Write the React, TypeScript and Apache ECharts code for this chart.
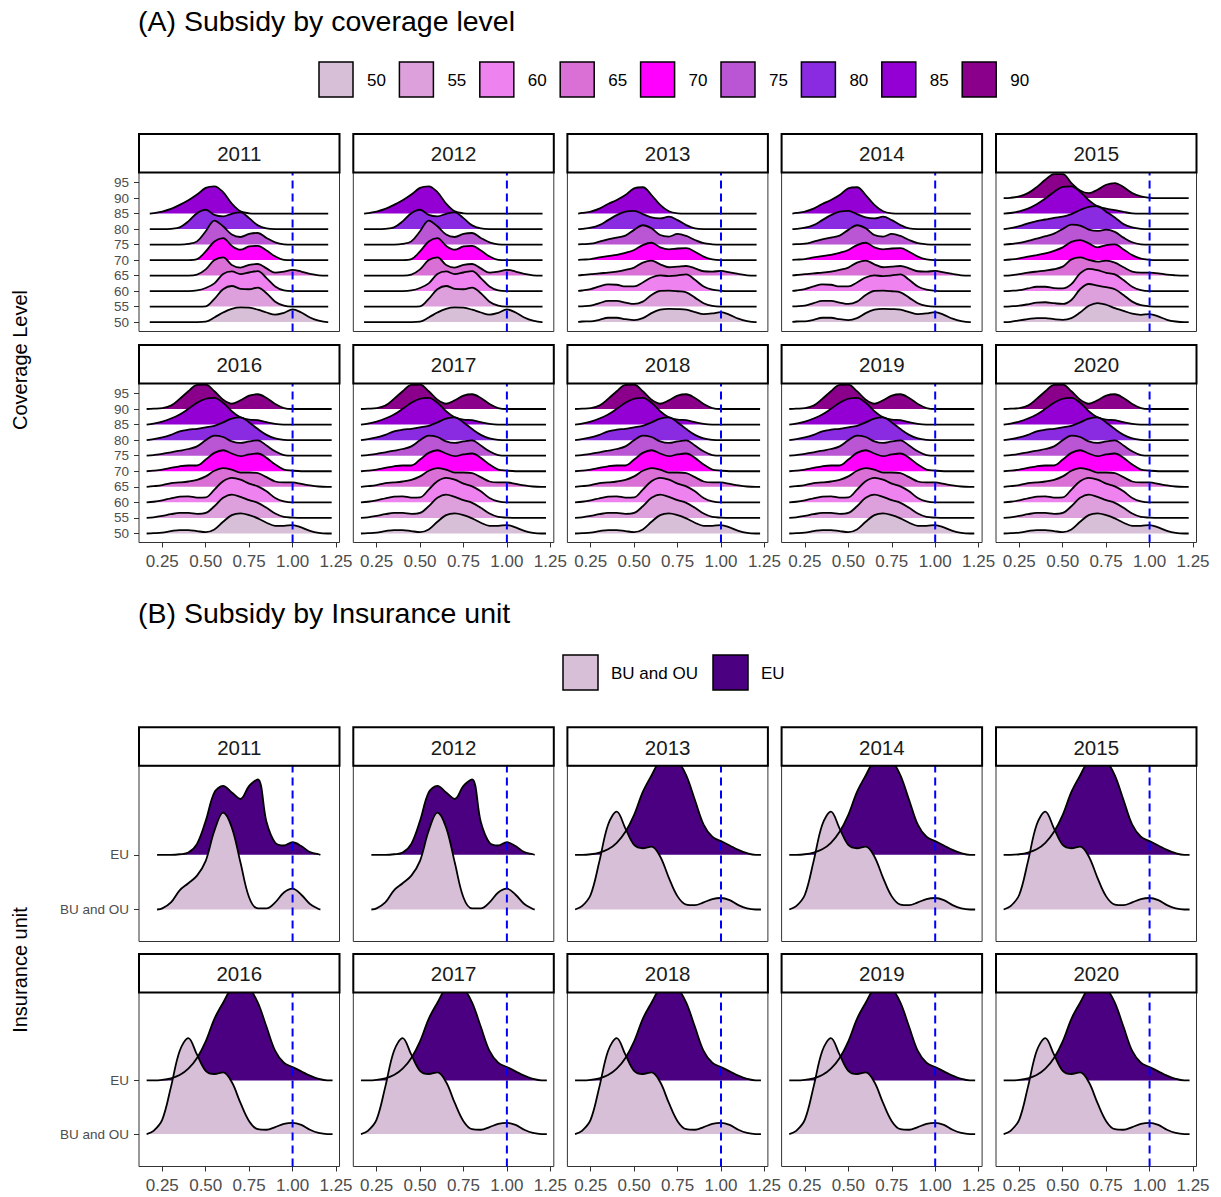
import React, { useEffect, useRef } from 'react';
import * as echarts from 'echarts';

// ---------- data ----------
const YEARS = [2011, 2012, 2013, 2014, 2015, 2016, 2017, 2018, 2019, 2020];
const LEVELS = [50, 55, 60, 65, 70, 75, 80, 85, 90];
const LEVEL_COLORS = ['#D8BFD8', '#DDA0DD', '#EE82EE', '#DA70D6', '#FF00FF', '#BA55D3', '#8A2BE2', '#9400D3', '#8B008B'];
const Y_TICKS_A = [50, 55, 60, 65, 70, 75, 80, 85, 90, 95];
const X_TICKS = [0.25, 0.5, 0.75, 1, 1.25];
const UNITS = ['BU and OU', 'EU'];
const UNIT_COLORS = ['#D8BFD8', '#4B0082'];

// x grids of the density curves
const XA1 = [0.178, 0.2, 0.25, 0.3, 0.35, 0.4, 0.45, 0.5, 0.55, 0.6, 0.65, 0.7, 0.75, 0.8, 0.85, 0.9, 0.95, 1.0, 1.05, 1.1, 1.15, 1.2, 1.205];
const XA2 = [0.16, 0.2, 0.25, 0.3, 0.35, 0.4, 0.45, 0.5, 0.55, 0.6, 0.65, 0.7, 0.75, 0.8, 0.85, 0.9, 0.95, 1.0, 1.05, 1.1, 1.15, 1.2, 1.225];
const XB1 = [0.22, 0.25, 0.3, 0.35, 0.4, 0.45, 0.5, 0.55, 0.6, 0.65, 0.7, 0.75, 0.8, 0.85, 0.9, 0.95, 1.0, 1.05, 1.1, 1.15, 1.16];
const XB2 = [0.16, 0.2, 0.25, 0.3, 0.35, 0.4, 0.45, 0.5, 0.55, 0.6, 0.65, 0.7, 0.75, 0.8, 0.85, 0.9, 0.95, 1.0, 1.05, 1.1, 1.15, 1.2, 1.23];

// (A) ridge heights (in level steps), rows = coverage 50, 55, ...
const A_2011 = [
  [0, 0, 0, 0, 0, 0, 0, 0.03, 0.3, 0.62, 0.86, 0.95, 0.93, 0.8, 0.62, 0.48, 0.6, 0.82, 0.62, 0.3, 0.09, 0, 0],
  [0, 0, 0, 0, 0, 0, 0, 0.02, 0.5, 1.12, 1.33, 1.15, 1.12, 1.23, 0.86, 0.32, 0.06, 0, 0, 0, 0, 0, 0],
  [0, 0, 0, 0, 0, 0, 0.04, 0.2, 0.5, 1.1, 1.27, 1.1, 1.2, 1.29, 0.84, 0.3, 0.04, 0, 0, 0, 0, 0, 0],
  [0, 0, 0, 0, 0, 0, 0.06, 0.4, 1.0, 1.18, 0.69, 0.52, 0.69, 0.75, 0.47, 0.19, 0.26, 0.37, 0.26, 0.11, 0.02, 0, 0],
  [0, 0, 0, 0, 0, 0, 0.06, 0.56, 1.2, 1.42, 0.92, 0.67, 0.88, 0.92, 0.62, 0.24, 0.02, 0, 0, 0, 0, 0, 0],
  [0, 0, 0, 0, 0, 0.04, 0.21, 0.86, 1.55, 1.18, 0.65, 0.49, 0.69, 0.75, 0.43, 0.15, 0.02, 0, 0, 0, 0, 0, 0],
  [0, 0, 0, 0.02, 0.11, 0.5, 1.03, 1.25, 0.92, 0.82, 0.99, 1.08, 0.71, 0.24, 0.04, 0, 0, 0, 0, 0, 0, 0, 0],
  [0, 0.03, 0.13, 0.3, 0.56, 0.86, 1.23, 1.66, 1.76, 1.38, 0.65, 0.15, 0.02, 0, 0, 0, 0, 0, 0, 0, 0, 0, 0],
];
const A_2013 = [
  [0.01, 0.04, 0.05, 0.15, 0.28, 0.28, 0.19, 0.13, 0.26, 0.58, 0.8, 0.86, 0.84, 0.8, 0.65, 0.52, 0.56, 0.65, 0.47, 0.22, 0.06, 0, 0],
  [0.01, 0.02, 0.06, 0.22, 0.37, 0.37, 0.26, 0.17, 0.32, 0.75, 1.01, 1.03, 0.99, 0.92, 0.58, 0.22, 0.04, 0, 0, 0, 0, 0, 0],
  [0.01, 0.04, 0.13, 0.3, 0.43, 0.41, 0.3, 0.3, 0.56, 0.88, 1.01, 0.97, 1.01, 1.08, 0.73, 0.3, 0.09, 0.02, 0, 0, 0, 0, 0],
  [0.01, 0.04, 0.09, 0.15, 0.19, 0.26, 0.37, 0.52, 0.84, 0.97, 0.73, 0.54, 0.58, 0.62, 0.47, 0.28, 0.26, 0.3, 0.21, 0.11, 0.02, 0, 0],
  [0.01, 0.03, 0.06, 0.17, 0.26, 0.34, 0.47, 0.65, 0.97, 1.12, 0.82, 0.69, 0.75, 0.77, 0.54, 0.22, 0.04, 0, 0, 0, 0, 0, 0],
  [0.01, 0.03, 0.06, 0.19, 0.34, 0.45, 0.58, 0.95, 1.25, 1.05, 0.62, 0.52, 0.69, 0.56, 0.3, 0.09, 0.02, 0, 0, 0, 0, 0, 0],
  [0, 0.02, 0.09, 0.26, 0.58, 0.9, 1.12, 1.18, 0.97, 0.75, 0.69, 0.8, 0.58, 0.26, 0.04, 0, 0, 0, 0, 0, 0, 0, 0],
  [0, 0.04, 0.13, 0.32, 0.62, 0.88, 1.2, 1.63, 1.7, 1.2, 0.56, 0.15, 0.02, 0, 0, 0, 0, 0, 0, 0, 0, 0, 0],
];
const A_2015 = [
  [0, 0.02, 0.11, 0.19, 0.26, 0.26, 0.19, 0.15, 0.26, 0.62, 1.05, 1.23, 1.12, 0.9, 0.73, 0.54, 0.47, 0.52, 0.37, 0.15, 0.04, 0, 0],
  [0, 0.02, 0.06, 0.15, 0.26, 0.28, 0.22, 0.17, 0.43, 1.12, 1.46, 1.35, 1.25, 1.12, 0.75, 0.32, 0.09, 0.02, 0, 0, 0, 0, 0],
  [0, 0.02, 0.06, 0.17, 0.28, 0.28, 0.19, 0.17, 0.45, 1.14, 1.44, 1.35, 1.18, 1.08, 0.71, 0.28, 0.06, 0, 0, 0, 0, 0, 0],
  [0, 0.02, 0.09, 0.19, 0.26, 0.32, 0.41, 0.58, 1.05, 1.18, 1.01, 0.9, 0.97, 0.84, 0.54, 0.26, 0.19, 0.19, 0.15, 0.06, 0.02, 0, 0],
  [0, 0.04, 0.11, 0.22, 0.32, 0.43, 0.6, 0.82, 1.18, 1.29, 1.08, 0.82, 0.97, 1.01, 0.69, 0.32, 0.09, 0.02, 0, 0, 0, 0, 0],
  [0, 0.04, 0.11, 0.24, 0.39, 0.54, 0.71, 1.01, 1.29, 1.23, 0.97, 0.88, 0.97, 0.82, 0.45, 0.15, 0.02, 0, 0, 0, 0, 0, 0],
  [0, 0.06, 0.19, 0.37, 0.52, 0.62, 0.73, 0.8, 0.97, 1.23, 1.44, 1.48, 1.12, 0.75, 0.32, 0.11, 0.02, 0, 0, 0, 0, 0, 0],
  [0, 0.04, 0.15, 0.32, 0.6, 0.97, 1.4, 1.72, 1.76, 1.4, 0.86, 0.47, 0.32, 0.22, 0.11, 0.02, 0, 0, 0, 0, 0, 0, 0],
  [0, 0.02, 0.11, 0.32, 0.71, 1.18, 1.55, 1.55, 0.97, 0.49, 0.32, 0.54, 0.86, 0.97, 0.71, 0.32, 0.11, 0.02, 0, 0, 0, 0, 0],
];
const A_2016 = [
  [0, 0.02, 0.06, 0.15, 0.22, 0.22, 0.15, 0.09, 0.26, 0.75, 1.18, 1.29, 1.18, 0.97, 0.69, 0.49, 0.49, 0.54, 0.39, 0.17, 0.04, 0, 0],
  [0, 0.04, 0.13, 0.24, 0.32, 0.32, 0.26, 0.32, 0.75, 1.29, 1.5, 1.35, 1.14, 0.97, 0.65, 0.28, 0.06, 0.02, 0, 0, 0, 0, 0],
  [0, 0.04, 0.13, 0.26, 0.37, 0.39, 0.3, 0.32, 0.82, 1.35, 1.57, 1.46, 1.2, 1.03, 0.71, 0.28, 0.06, 0, 0, 0, 0, 0, 0],
  [0, 0.04, 0.11, 0.24, 0.28, 0.34, 0.45, 0.67, 1.03, 1.2, 1.1, 0.92, 0.92, 0.88, 0.62, 0.34, 0.28, 0.28, 0.19, 0.09, 0.02, 0, 0],
  [0, 0.04, 0.11, 0.22, 0.32, 0.37, 0.37, 0.75, 1.18, 1.35, 1.14, 0.97, 1.08, 1.14, 0.86, 0.43, 0.11, 0.04, 0, 0, 0, 0, 0],
  [0, 0.04, 0.11, 0.22, 0.32, 0.43, 0.6, 0.99, 1.29, 1.2, 0.92, 0.82, 0.92, 0.99, 0.65, 0.28, 0.04, 0, 0, 0, 0, 0, 0],
  [0, 0.06, 0.17, 0.34, 0.56, 0.67, 0.73, 0.82, 0.92, 1.14, 1.38, 1.46, 1.14, 0.71, 0.34, 0.11, 0.02, 0, 0, 0, 0, 0, 0],
  [0, 0.06, 0.19, 0.39, 0.65, 1.01, 1.4, 1.66, 1.72, 1.4, 0.86, 0.47, 0.32, 0.28, 0.15, 0.04, 0, 0, 0, 0, 0, 0, 0],
  [0, 0.02, 0.06, 0.22, 0.65, 1.14, 1.55, 1.57, 1.14, 0.6, 0.34, 0.56, 0.86, 0.95, 0.71, 0.32, 0.06, 0, 0, 0, 0, 0, 0],
];
// which profile each year of panel (A) shows
const A_PANEL_DATA = [A_2011, A_2011, A_2013, A_2013, A_2015, A_2016, A_2016, A_2016, A_2016, A_2016];
const A_PANEL_X = [XA1, XA1, XA1, XA1, XA2, XA2, XA2, XA2, XA2, XA2];

// (B) ridge heights (in unit spacing), rows = BU and OU, EU
const B_2011 = [
  [0, 0.02, 0.13, 0.35, 0.48, 0.62, 0.89, 1.44, 1.77, 1.5, 0.86, 0.22, 0.02, 0.02, 0.13, 0.31, 0.38, 0.27, 0.1, 0.01, 0],
  [0, 0, 0, 0.01, 0.04, 0.2, 0.62, 1.14, 1.26, 1.14, 1.02, 1.26, 1.38, 0.6, 0.22, 0.17, 0.23, 0.16, 0.05, 0.01, 0],
];
const B_2013 = [
  [0, 0.06, 0.27, 0.88, 1.55, 1.79, 1.48, 1.18, 1.12, 1.15, 0.97, 0.58, 0.24, 0.09, 0.08, 0.13, 0.19, 0.21, 0.17, 0.08, 0.02, 0, 0],
  [0, 0, 0.01, 0.04, 0.1, 0.22, 0.42, 0.73, 1.15, 1.45, 1.72, 1.78, 1.72, 1.45, 1.0, 0.55, 0.33, 0.25, 0.17, 0.09, 0.03, 0, 0],
];
const B_PANEL_DATA = [B_2011, B_2011, B_2013, B_2013, B_2013, B_2013, B_2013, B_2013, B_2013, B_2013];
const B_PANEL_X = [XB1, XB1, XB2, XB2, XB2, XB2, XB2, XB2, XB2, XB2];

// ---------- layout ----------
const FONT = '"Liberation Sans", Arial, sans-serif';
const COL_LEFT = [139, 353.3, 567.4, 781.6, 996];
const PANEL_W = 200.5;
const STRIP_H = 38.5;
const X_MIN = 0.116;
const X_MAX = 1.27;
const A_ROWS = [
  { stripTop: 134, plotH: 159, yMin: 46.97, yMax: 98.26 },
  { stripTop: 345, plotH: 159, yMin: 47.1, yMax: 98.2 },
];
const B_ROWS = [
  { stripTop: 727.3, plotH: 175.7, yMin: 0.415, yMax: 3.627 },
  { stripTop: 954, plotH: 174, yMin: 0.395, yMax: 3.64 },
];

function buildOption() {
  const grids: any[] = [];
  const xAxes: any[] = [];
  const yAxes: any[] = [];
  const series: any[] = [];
  const graphics: any[] = [];

  const addPanel = (section: 'A' | 'B', p: number) => {
    const row = Math.floor(p / 5);
    const col = p % 5;
    const R = section === 'A' ? A_ROWS[row] : B_ROWS[row];
    const gi = grids.length;
    const left = COL_LEFT[col];
    const top = R.stripTop + STRIP_H;
    grids.push({
      left, top, width: PANEL_W, height: R.plotH,
      show: true, borderColor: '#333333', borderWidth: 1, backgroundColor: 'transparent',
      containLabel: false,
    });
    const showX = row === 1;
    xAxes.push({
      type: 'value', gridIndex: gi, min: X_MIN, max: X_MAX,
      splitLine: { show: false }, axisLine: { show: false },
      axisTick: { show: showX, customValues: X_TICKS, length: 5, lineStyle: { color: '#333333', width: 1 } },
      axisLabel: {
        show: showX, customValues: X_TICKS, fontSize: 17, color: '#4D4D4D', margin: 10, fontFamily: FONT,
        formatter: (v: number) => v.toFixed(2),
      },
    });
    const showY = col === 0;
    const yTicks = section === 'A' ? Y_TICKS_A : [1, 2];
    yAxes.push({
      type: 'value', gridIndex: gi, min: R.yMin, max: R.yMax,
      splitLine: { show: false }, axisLine: { show: false },
      axisTick: { show: showY, customValues: yTicks, length: 5, lineStyle: { color: '#333333', width: 1 } },
      axisLabel: {
        show: showY, customValues: yTicks, fontSize: 13.5, color: '#4D4D4D', margin: 10, fontFamily: FONT,
        formatter: (v: number) => (section === 'A' ? String(v) : UNITS[Math.round(v) - 1]),
      },
    });

    if (section === 'A') {
      const rows = A_PANEL_DATA[p];
      const xs = A_PANEL_X[p];
      for (let k = rows.length - 1; k >= 0; k--) {
        const base = LEVELS[k];
        series.push({
          type: 'line', xAxisIndex: gi, yAxisIndex: gi, silent: true,
          data: xs.map((x, i) => [x, base + rows[k][i] * 5]),
          smooth: 0.35, symbol: 'none', showSymbol: false,
          lineStyle: { color: '#000000', width: 1.8 },
          areaStyle: { color: LEVEL_COLORS[k], opacity: 1, origin: base },
        });
      }
    } else {
      const rows = B_PANEL_DATA[p];
      const xs = B_PANEL_X[p];
      for (let k = rows.length - 1; k >= 0; k--) {
        const base = k + 1;
        series.push({
          type: 'line', xAxisIndex: gi, yAxisIndex: gi, silent: true,
          data: xs.map((x, i) => [x, base + rows[k][i]]),
          smooth: 0.35, symbol: 'none', showSymbol: false,
          lineStyle: { color: '#000000', width: 1.8 },
          areaStyle: { color: UNIT_COLORS[k], opacity: 1, origin: base },
        });
      }
    }
    // reference line at 1.00
    series.push({
      type: 'line', xAxisIndex: gi, yAxisIndex: gi, silent: true,
      data: [[1, R.yMin], [1, R.yMax]],
      symbol: 'none', showSymbol: false,
      lineStyle: { color: '#0000FF', width: 2, type: [8, 5] },
    });

    // strip
    graphics.push({
      type: 'rect', z: 100,
      shape: { x: left, y: R.stripTop, width: PANEL_W, height: STRIP_H },
      style: { fill: '#FFFFFF', stroke: '#000000', lineWidth: 2 },
    });
    graphics.push({
      type: 'text', z: 101, x: left + PANEL_W / 2, y: R.stripTop + STRIP_H / 2 + 0.5,
      style: {
        text: String(YEARS[p]), fill: '#1A1A1A', font: `20.5px ${FONT}`,
        textAlign: 'center', textVerticalAlign: 'middle',
      },
    });
  };

  for (let p = 0; p < 10; p++) addPanel('A', p);
  for (let p = 0; p < 10; p++) addPanel('B', p);

  // titles
  graphics.push({
    type: 'text', x: 138, y: 21,
    style: { text: '(A) Subsidy by coverage level', fill: '#000000', font: `28.5px ${FONT}`, textAlign: 'left', textVerticalAlign: 'middle' },
  });
  graphics.push({
    type: 'text', x: 138, y: 613,
    style: { text: '(B) Subsidy by Insurance unit', fill: '#000000', font: `28.5px ${FONT}`, textAlign: 'left', textVerticalAlign: 'middle' },
  });
  // axis titles
  graphics.push({
    type: 'text', x: 20, y: 360, rotation: Math.PI / 2,
    style: { text: 'Coverage Level', fill: '#000000', font: `20px ${FONT}`, textAlign: 'center', textVerticalAlign: 'middle' },
  });
  graphics.push({
    type: 'text', x: 20, y: 970, rotation: Math.PI / 2,
    style: { text: 'Insurance unit', fill: '#000000', font: `20px ${FONT}`, textAlign: 'center', textVerticalAlign: 'middle' },
  });

  // legend A
  LEVELS.forEach((lv, i) => {
    const bx = 319 + i * 80.4;
    graphics.push({
      type: 'rect', shape: { x: bx, y: 62, width: 34, height: 35 },
      style: { fill: LEVEL_COLORS[i], stroke: '#000000', lineWidth: 1.5 },
    });
    graphics.push({
      type: 'text', x: bx + 48, y: 80,
      style: { text: String(lv), fill: '#000000', font: `17px ${FONT}`, textAlign: 'left', textVerticalAlign: 'middle' },
    });
  });
  // legend B
  const legB = [563, 713];
  UNITS.forEach((u, i) => {
    graphics.push({
      type: 'rect', shape: { x: legB[i], y: 655, width: 35, height: 35 },
      style: { fill: UNIT_COLORS[i], stroke: '#000000', lineWidth: 1.5 },
    });
    graphics.push({
      type: 'text', x: legB[i] + 48, y: 673,
      style: { text: u, fill: '#000000', font: `17px ${FONT}`, textAlign: 'left', textVerticalAlign: 'middle' },
    });
  });

  return {
    animation: false,
    backgroundColor: '#FFFFFF',
    textStyle: { fontFamily: FONT },
    grid: grids,
    xAxis: xAxes,
    yAxis: yAxes,
    series,
    graphic: { elements: graphics },
  };
}

export default function App() {
  const ref = useRef<HTMLDivElement>(null);
  useEffect(() => {
    document.body.style.margin = '0';
    const chart = echarts.init(ref.current as HTMLDivElement, null, { renderer: 'svg' });
    chart.setOption(buildOption() as any);
    return () => chart.dispose();
  }, []);
  return <div ref={ref} style={{ width: 1221, height: 1197, position: 'absolute', left: 0, top: 0 }} />;
}
